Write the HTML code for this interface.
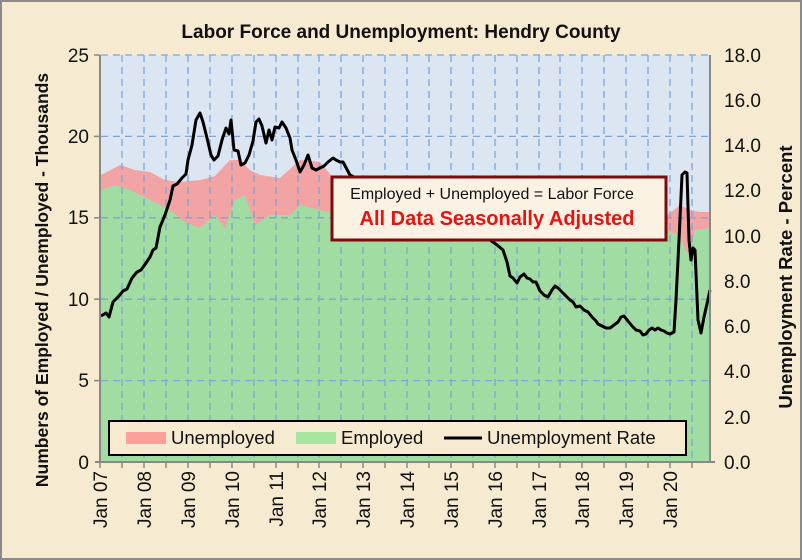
<!DOCTYPE html>
<html><head><meta charset="utf-8"><style>
body{margin:0;background:#fff}
svg{display:block;font-family:"Liberation Sans",sans-serif}
</style></head><body>
<svg width="802" height="560" viewBox="0 0 802 560" xmlns="http://www.w3.org/2000/svg">
<rect x="0" y="0" width="802" height="560" fill="#F6EAD0"/>
<rect x="1" y="1" width="800" height="558" fill="none" stroke="#8a8a8a" stroke-width="2"/>
<rect x="101" y="55" width="609" height="407" fill="#DCE6F2"/>
<polygon fill="#F2A3A3" points="101,462 101,175 120,165 135,170 150,172 165,180 180,182 200,180 215,176 230,160 240,160 250,170 260,175 280,178 300,160 320,162 335,180 360,190 400,200 450,215 490,232 520,236 600,236 650,222 670,213 680,205 690,210 700,212 710,212 710,462"/>
<polygon fill="#A1DCA3" points="101,462 101,190 115,185 130,190 150,200 170,210 185,222 200,228 215,215 225,228 235,200 245,195 255,225 270,215 290,215 300,205 320,210 340,215 400,225 480,235 500,240 600,240 670,232 680,235 685,250 690,255 695,230 710,228 710,462"/>
<g stroke="#7EA6DA" stroke-width="1.3" stroke-dasharray="7,5" fill="none">
<line x1="101" y1="136.4" x2="710" y2="136.4"/><line x1="101" y1="217.8" x2="710" y2="217.8"/>
<line x1="101" y1="299.2" x2="710" y2="299.2"/><line x1="101" y1="380.6" x2="710" y2="380.6"/>
<line x1="101" y1="55" x2="710" y2="55"/>
<line x1="122" y1="55" x2="122" y2="462"/><line x1="144" y1="55" x2="144" y2="462"/><line x1="166" y1="55" x2="166" y2="462"/><line x1="188" y1="55" x2="188" y2="462"/><line x1="210" y1="55" x2="210" y2="462"/><line x1="232" y1="55" x2="232" y2="462"/><line x1="254" y1="55" x2="254" y2="462"/><line x1="276" y1="55" x2="276" y2="462"/><line x1="298" y1="55" x2="298" y2="462"/><line x1="319" y1="55" x2="319" y2="462"/><line x1="341" y1="55" x2="341" y2="462"/><line x1="363" y1="55" x2="363" y2="462"/><line x1="385" y1="55" x2="385" y2="462"/><line x1="407" y1="55" x2="407" y2="462"/><line x1="429" y1="55" x2="429" y2="462"/><line x1="451" y1="55" x2="451" y2="462"/><line x1="473" y1="55" x2="473" y2="462"/><line x1="495" y1="55" x2="495" y2="462"/><line x1="517" y1="55" x2="517" y2="462"/><line x1="539" y1="55" x2="539" y2="462"/><line x1="560" y1="55" x2="560" y2="462"/><line x1="582" y1="55" x2="582" y2="462"/><line x1="604" y1="55" x2="604" y2="462"/><line x1="626" y1="55" x2="626" y2="462"/><line x1="648" y1="55" x2="648" y2="462"/><line x1="670" y1="55" x2="670" y2="462"/><line x1="692" y1="55" x2="692" y2="462"/>
</g>
<polyline fill="none" stroke="#000" stroke-width="3" stroke-linejoin="round" points="101,316 106,313 109,317 113,302 118,297 123,291 127,289 132,278 137,272 141,270 146,263 150,257 153,250 156,248 160,227 165,215 170,200 173,186 177,184 182,178 186,174 188,160 192,145 196,120 200,113 203,122 207,138 211,155 214,160 218,156 222,140 226,128 229,134 231,120 234,150 238,151 241,165 245,163 249,155 253,141 256,122 259,119 262,126 266,143 269,130 272,140 275,127 279,128 282,122 286,128 290,138 292,150 296,160 300,172 304,165 308,155 312,168 316,170 320,168 324,166 328,162 333,158 336,160 340,162 343,162 350,175 400,200 450,215 480,225 490,240 497,245 503,250 507,262 510,276 513,278 517,283 520,277 524,274 527,278 530,279 533,282 536,282 540,291 544,295 548,297 552,290 555,286 558,288 562,292 566,296 570,300 573,302 576,307 580,306 584,310 588,312 592,317 596,321 598,324 602,326 606,328 610,328 614,325 618,322 621,317 624,316 628,321 632,326 636,330 640,331 643,335 646,334 649,330 652,328 655,330 658,328 661,330 664,331 667,333 670,334 674,332 676,300 679,240 682,175 685,172 687,173 689,240 691,260 693,248 695,250 698,320 701,333 704,317 707,304 710,290"/>
<g stroke="#888" stroke-width="2">
<line x1="100" y1="55" x2="100" y2="463"/><line x1="710" y1="55" x2="710" y2="463"/><line x1="95" y1="462" x2="715" y2="462"/>
</g>
<g stroke="#888" stroke-width="1.5">
<line x1="94" y1="55" x2="100" y2="55"/><line x1="94" y1="136.4" x2="100" y2="136.4"/><line x1="94" y1="217.8" x2="100" y2="217.8"/><line x1="94" y1="299.2" x2="100" y2="299.2"/><line x1="94" y1="380.6" x2="100" y2="380.6"/>
<line x1="100" y1="462" x2="100" y2="468"/><line x1="122" y1="462" x2="122" y2="468"/><line x1="144" y1="462" x2="144" y2="468"/><line x1="166" y1="462" x2="166" y2="468"/><line x1="188" y1="462" x2="188" y2="468"/><line x1="210" y1="462" x2="210" y2="468"/><line x1="232" y1="462" x2="232" y2="468"/><line x1="254" y1="462" x2="254" y2="468"/><line x1="276" y1="462" x2="276" y2="468"/><line x1="298" y1="462" x2="298" y2="468"/><line x1="319" y1="462" x2="319" y2="468"/><line x1="341" y1="462" x2="341" y2="468"/><line x1="363" y1="462" x2="363" y2="468"/><line x1="385" y1="462" x2="385" y2="468"/><line x1="407" y1="462" x2="407" y2="468"/><line x1="429" y1="462" x2="429" y2="468"/><line x1="451" y1="462" x2="451" y2="468"/><line x1="473" y1="462" x2="473" y2="468"/><line x1="495" y1="462" x2="495" y2="468"/><line x1="517" y1="462" x2="517" y2="468"/><line x1="539" y1="462" x2="539" y2="468"/><line x1="560" y1="462" x2="560" y2="468"/><line x1="582" y1="462" x2="582" y2="468"/><line x1="604" y1="462" x2="604" y2="468"/><line x1="626" y1="462" x2="626" y2="468"/><line x1="648" y1="462" x2="648" y2="468"/><line x1="670" y1="462" x2="670" y2="468"/><line x1="692" y1="462" x2="692" y2="468"/>
</g>
<g font-size="19" fill="#111" text-anchor="end">
<text x="89" y="62">25</text><text x="89" y="143">20</text><text x="89" y="224">15</text><text x="89" y="306">10</text><text x="89" y="387">5</text><text x="89" y="469">0</text>
</g>
<g font-size="19" fill="#111" text-anchor="start">
<text x="724" y="62">18.0</text><text x="724" y="107">16.0</text><text x="724" y="152">14.0</text><text x="724" y="197">12.0</text><text x="724" y="243">10.0</text><text x="724" y="288">8.0</text><text x="724" y="333">6.0</text><text x="724" y="378">4.0</text><text x="724" y="424">2.0</text><text x="724" y="469">0.0</text>
</g>
<g font-size="19" fill="#111" text-anchor="end">
<text transform="translate(107,471) rotate(-90)">Jan 07</text><text transform="translate(151,471) rotate(-90)">Jan 08</text><text transform="translate(195,471) rotate(-90)">Jan 09</text><text transform="translate(239,471) rotate(-90)">Jan 10</text><text transform="translate(283,471) rotate(-90)">Jan 11</text><text transform="translate(326,471) rotate(-90)">Jan 12</text><text transform="translate(370,471) rotate(-90)">Jan 13</text><text transform="translate(414,471) rotate(-90)">Jan 14</text><text transform="translate(458,471) rotate(-90)">Jan 15</text><text transform="translate(502,471) rotate(-90)">Jan 16</text><text transform="translate(546,471) rotate(-90)">Jan 17</text><text transform="translate(589,471) rotate(-90)">Jan 18</text><text transform="translate(633,471) rotate(-90)">Jan 19</text><text transform="translate(677,471) rotate(-90)">Jan 20</text>
</g>
<text x="401" y="38" font-size="19" font-weight="bold" text-anchor="middle" fill="#111">Labor Force and Unemployment: Hendry County</text>
<text transform="translate(48,280) rotate(-90)" font-size="17.5" font-weight="bold" text-anchor="middle" fill="#111">Numbers of Employed / Unemployed - Thousands</text>
<text transform="translate(792,277) rotate(-90)" font-size="18.5" font-weight="bold" text-anchor="middle" fill="#111">Unemployment Rate - Percent</text>
<rect x="332" y="177" width="334" height="63" fill="#FBF2E4" stroke="#7A0C0C" stroke-width="3"/>
<text x="492" y="199" font-size="16" text-anchor="middle" fill="#111">Employed + Unemployed = Labor Force</text>
<text x="497" y="225" font-size="20" font-weight="bold" text-anchor="middle" fill="#E81212">All Data Seasonally Adjusted</text>
<rect x="109" y="421" width="577" height="34" fill="#F6EAD0" stroke="#000" stroke-width="2"/>
<rect x="126" y="432" width="40" height="12" fill="#FF9F9A"/>
<text x="171" y="444" font-size="18.5" fill="#111">Unemployed</text>
<rect x="296" y="432" width="40" height="12" fill="#A8E5A0"/>
<text x="341" y="444" font-size="18.5" fill="#111">Employed</text>
<line x1="444" y1="438" x2="482" y2="438" stroke="#000" stroke-width="3"/>
<text x="487" y="444" font-size="18.5" fill="#111">Unemployment Rate</text>
</svg>
</body></html>
